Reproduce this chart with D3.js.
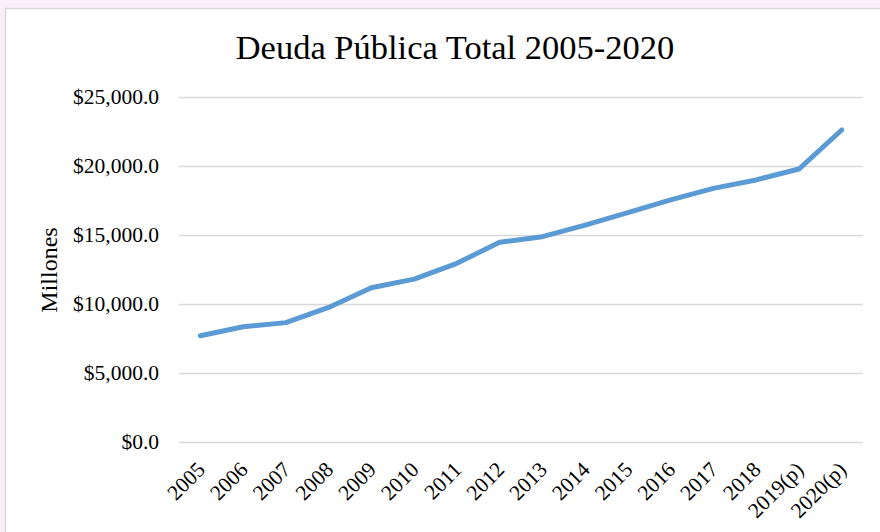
<!DOCTYPE html>
<html>
<head>
<meta charset="utf-8">
<script src="https://cdn.jsdelivr.net/npm/d3@7"></script>
<style>
  body { margin: 0; background: #fbeef8; }
  svg { display: block; }
  text { font-family: "Liberation Serif", "Times New Roman", serif; fill: #000; }
</style>
</head>
<body>
<div id="grafico"></div>
<script>
// datos
const anios = ['2005', '2006', '2007', '2008', '2009', '2010', '2011', '2012',
    '2013', '2014', '2015', '2016', '2017', '2018', '2019(p)', '2020(p)'];
const deuda = [7700, 8350, 8650, 9750, 11180, 11800, 12950, 14470,
    14880, 15720, 16620, 17540, 18380, 18990, 19780, 22610];
const ticksY = [0, 5000, 10000, 15000, 20000, 25000];

const ancho = 880, alto = 532;
const margen = { izq: 179, der: 17, arr: 97, aba: 90 };

const svg = d3.select('#grafico').append('svg')
    .attr('width', ancho)
    .attr('height', alto);

// area del grafico
svg.append('rect')
    .attr('x', 5.5).attr('y', 8.5)
    .attr('width', 920).attr('height', 600)
    .attr('fill', '#fff')
    .attr('stroke', '#d9d9d9')
    .attr('stroke-width', 1.5);

const x = d3.scaleBand()
    .domain(anios)
    .range([margen.izq, ancho - margen.der]);

const y = d3.scaleLinear()
    .domain([0, 25000])
    .range([alto - margen.aba, margen.arr]);

// lineas de la cuadricula
svg.append('g')
    .selectAll('line')
    .data(ticksY)
    .enter().append('line')
    .attr('x1', margen.izq)
    .attr('x2', ancho - margen.der)
    .attr('y1', d => Math.round(y(d)) + 0.5)
    .attr('y2', d => Math.round(y(d)) + 0.5)
    .attr('stroke', '#d9d9d9')
    .attr('stroke-width', 1.3);

// eje y
const fmt = d3.format(',.1f');
const ejeY = svg.append('g')
    .attr('transform', `translate(${margen.izq},0)`)
    .call(d3.axisLeft(y).tickValues(ticksY).tickSize(0).tickPadding(20)
        .tickFormat(d => '$' + fmt(d)));
ejeY.select('.domain').remove();
ejeY.selectAll('text')
    .style('font-family', '"Liberation Serif", serif')
    .style('font-size', '21.5px');

// eje x
const ejeX = svg.append('g')
    .attr('transform', `translate(0,${alto - margen.aba})`)
    .call(d3.axisBottom(x).tickSize(0).tickPadding(0));
ejeX.select('.domain').remove();
ejeX.selectAll('text')
    .style('font-family', '"Liberation Serif", serif')
    .style('font-size', '21.5px')
    .attr('text-anchor', 'end')
    .attr('dy', 0)
    .attr('transform', 'translate(6,29) rotate(-45)');

// linea
const linea = d3.line()
    .x((d, i) => x(anios[i]) + x.bandwidth() / 2)
    .y(d => y(d));

svg.append('path')
    .datum(deuda)
    .attr('d', linea)
    .attr('fill', 'none')
    .attr('stroke', '#5b9bd5')
    .attr('stroke-width', 5)
    .attr('stroke-linecap', 'round')
    .attr('stroke-linejoin', 'round');

// titulo
svg.append('text')
    .attr('x', 455)
    .attr('y', 59)
    .attr('text-anchor', 'middle')
    .style('font-size', '34.5px')
    .text('Deuda Pública Total 2005-2020');

// titulo eje y
svg.append('text')
    .attr('transform', 'translate(57,270) rotate(-90)')
    .attr('text-anchor', 'middle')
    .style('font-size', '24px')
    .text('Millones');
</script>
</body>
</html>
